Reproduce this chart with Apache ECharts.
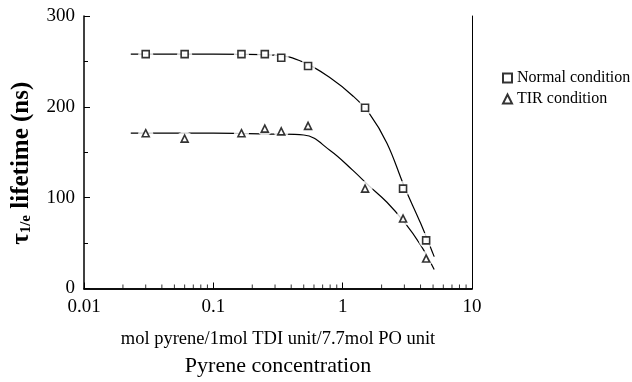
<!DOCTYPE html>
<html><head><meta charset="utf-8">
<script src="https://cdn.jsdelivr.net/npm/echarts@6/dist/echarts.min.js"></script>
<style>html,body{margin:0;padding:0;background:#fff}#c{width:632px;height:382px}</style>
</head><body><div id="c"></div>
<script>
const concentration = [0.03, 0.06, 0.165, 0.25, 0.335, 0.54, 1.49, 2.93, 4.42];
const normalLifetime = [258, 258, 258, 258, 254, 245, 199, 110, 53];
const tirLifetime = [171, 165, 171, 176, 173, 179, 110, 77, 33];
const fitX = [0.023, 0.1, 0.3, 0.5, 0.8, 1.2, 1.6, 2.2, 3, 4, 5.1];
const normalFit = [258, 258, 257, 249, 232, 212, 193, 160, 112, 72, 35];
const tirFit = [171, 171, 170, 169, 152, 130, 113, 95, 73, 48, 21];
const minorTicks = [];
[0.01, 0.1, 1].forEach(d => { for (let k = 2; k <= 9; k++) minorTicks.push(+(d * k).toFixed(3)); });

const font = 'Liberation Serif';
const pair = (xs, ys) => xs.map((x, i) => [x, ys[i]]);
const chart = echarts.init(document.getElementById('c'));
const markStyle = { color: '#fff', borderColor: '#000', borderWidth: 1.6 };
chart.setOption({
  animation: false,
  grid: { left: 84, right: 160, top: 16, bottom: 84 },
  legend: {
    left: 497, top: 65, orient: 'vertical', itemGap: 5, itemWidth: 9, itemHeight: 9,
    data: ['Normal condition', 'TIR condition'],
    textStyle: { fontFamily: font, fontSize: 16, color: '#000' }
  },
  xAxis: [{
    type: 'log', logBase: 10, min: 0.01, max: 10,
    axisLine: { lineStyle: { color: '#000', width: 1.5 } },
    axisTick: { show: true, inside: true, length: 6, lineStyle: { color: '#000' } },
    axisLabel: { color: '#000', fontFamily: font, fontSize: 19, margin: 9 },
    splitLine: { show: false },
    name: '{a|mol pyrene/1mol TDI unit/7.7mol PO unit}\n{b|Pyrene concentration}',
    nameLocation: 'middle', nameGap: 38,
    nameTextStyle: { rich: {
      a: { fontFamily: font, fontSize: 18.5, color: '#000', lineHeight: 26 },
      b: { fontFamily: font, fontSize: 22, color: '#000', lineHeight: 27 } } }
  }, {
    type: 'log', logBase: 10, min: 0.01, max: 10, position: 'top',
    axisLine: { show: true, lineStyle: { color: '#000', width: 1.5 } },
    axisTick: { show: false }, axisLabel: { show: false }, splitLine: { show: false }
  }],
  yAxis: [{
    type: 'value', min: 0, max: 300, interval: 100,
    axisLine: { show: true, lineStyle: { color: '#000', width: 1.5 } },
    axisTick: { show: true, inside: true, length: 6, lineStyle: { color: '#000' } },
    minorTick: { show: true, splitNumber: 2, length: 4, lineStyle: { color: '#000' } },
    axisLabel: { color: '#000', fontFamily: font, fontSize: 19, margin: 9 },
    splitLine: { show: false },
    name: '{t|τ}{s|1/e}{t| lifetime (ns)}', nameLocation: 'middle', nameRotate: 90, nameGap: 50,
    nameTextStyle: { padding: [0, 22, 0, 0], rich: {
      t: { fontFamily: font, fontSize: 25, fontWeight: 'bold', color: '#000', verticalAlign: 'bottom', lineHeight: 28 },
      s: { fontFamily: font, fontSize: 15, fontWeight: 'bold', color: '#000', verticalAlign: 'bottom', lineHeight: 21 } } }
  }, {
    type: 'value', min: 0, max: 300, interval: 100, position: 'right',
    axisLine: { show: true, lineStyle: { color: '#000', width: 1 } },
    axisTick: { show: false }, axisLabel: { show: false }, splitLine: { show: false }
  }],
  series: [
    { type: 'line', smooth: 0.4, showSymbol: false, silent: true, data: pair(fitX, normalFit),
      lineStyle: { color: '#000', width: 1.2 }, z: 1 },
    { type: 'line', smooth: 0.4, showSymbol: false, silent: true, data: pair(fitX, tirFit),
      lineStyle: { color: '#000', width: 1.2 }, z: 1 },
    { type: 'scatter', silent: true, symbol: 'circle', symbolSize: 15, data: pair(concentration, normalLifetime),
      itemStyle: { color: '#fff' }, z: 2 },
    { type: 'scatter', silent: true, symbol: 'circle', symbolSize: 15, data: pair(concentration, tirLifetime),
      itemStyle: { color: '#fff' }, z: 2 },
    { type: 'scatter', silent: true, symbol: 'rect', symbolSize: [1, 4], symbolOffset: [0, -2],
      data: minorTicks.map(v => [v, 0]), itemStyle: { color: '#000' }, z: 4 },
    { name: 'Normal condition', type: 'scatter', symbol: 'rect', symbolSize: 7,
      data: pair(concentration, normalLifetime), itemStyle: markStyle, z: 3 },
    { name: 'TIR condition', type: 'scatter', symbol: 'triangle', symbolSize: 7,
      data: pair(concentration, tirLifetime), itemStyle: markStyle, z: 3 }
  ]
});
</script></body></html>
